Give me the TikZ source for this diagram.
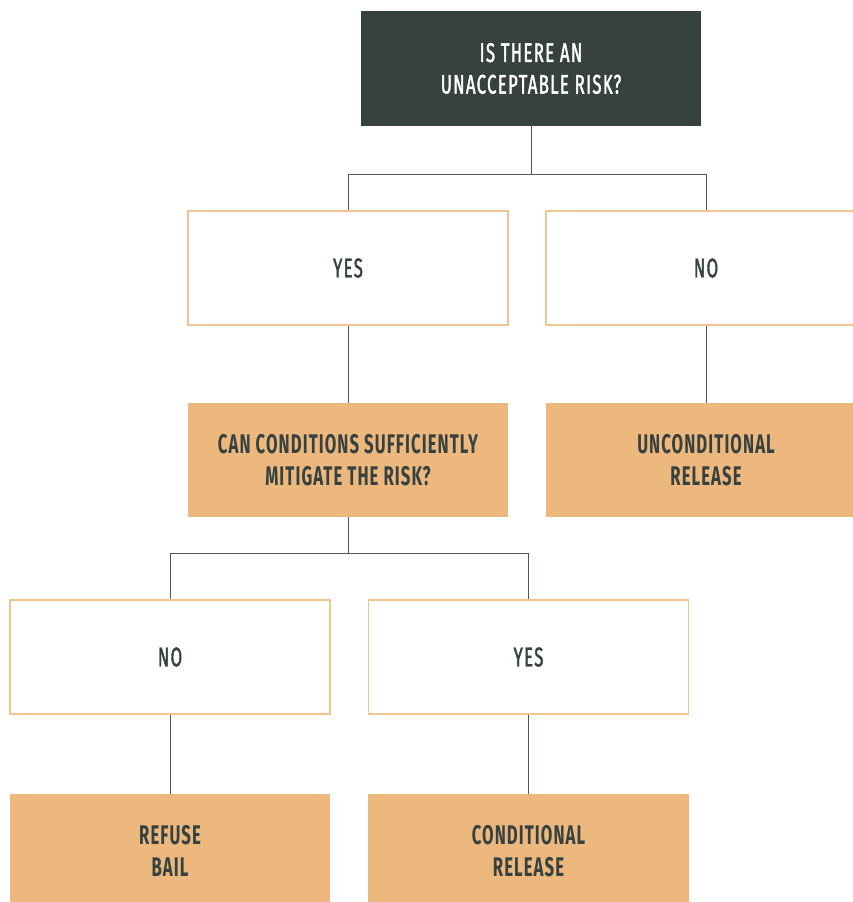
\documentclass[tikz,border=0pt]{standalone}
\usepackage{fontspec}
\setmainfont{Fira Sans}[FakeStretch=0.62,LetterSpace=4]
\newfontfamily\medfont{Fira Sans}[FakeStretch=0.62,LetterSpace=5,FakeBold=1.5]
\definecolor{slate}{HTML}{364140}
\definecolor{sand}{HTML}{EDB87D}
\definecolor{sandline}{HTML}{F2C590}
\definecolor{wire}{HTML}{4E5857}
\tikzset{
  question/.style={fill=slate,text=white,minimum width=10.2cm,minimum height=3.45cm,align=center,inner sep=0pt,font=\fontsize{23}{27}\selectfont\medfont},
  answer/.style={draw=sandline,line width=0.9pt,fill=white,text=slate,minimum width=9.6cm,minimum height=3.42cm,align=center,inner sep=0pt,font=\fontsize{23}{27}\selectfont\medfont},
  outcome/.style={fill=sand,text=slate,minimum width=9.6cm,minimum height=3.42cm,align=center,inner sep=0pt,font=\fontsize{23}{27}\selectfont\bfseries},
  link/.style={draw=wire,line width=0.8pt}
}
\begin{document}
\begin{tikzpicture}[x=0.03cm,y=-0.03cm]
\useasboundingbox (0,0) rectangle (853,902);
\clip (0,0) rectangle (853,902);
% first question
\node [question] (risk) at (531,68.5) {IS THERE AN\\UNACCEPTABLE RISK?};
\node [answer] (yes1) at (348,268) {YES};
\node [answer] (no1) at (706,268) {NO};
\node [outcome] (mitigate) at (348,460) {CAN CONDITIONS SUFFICIENTLY\\MITIGATE THE RISK?};
\node [outcome] (uncond) at (706,460) {UNCONDITIONAL\\RELEASE};
% second question
\node [answer] (no2) at (170,657) {NO};
\node [answer] (yes2) at (528.5,657) {YES};
\node [outcome] (refuse) at (170,851) {REFUSE\\BAIL};
\node [outcome] (cond) at (528.5,851) {CONDITIONAL\\RELEASE};
% connectors
\draw [link] (risk.south) -- ++(0,48) coordinate (split1);
\draw [link] (split1) -| (yes1.north);
\draw [link] (split1) -| (no1.north);
\draw [link] (yes1) -- (mitigate);
\draw [link] (no1) -- (uncond);
\draw [link] (mitigate.south) -- ++(0,36) coordinate (split2);
\draw [link] (split2) -| (no2.north);
\draw [link] (split2) -| (yes2.north);
\draw [link] (no2) -- (refuse);
\draw [link] (yes2) -- (cond);
\end{tikzpicture}
\end{document}
